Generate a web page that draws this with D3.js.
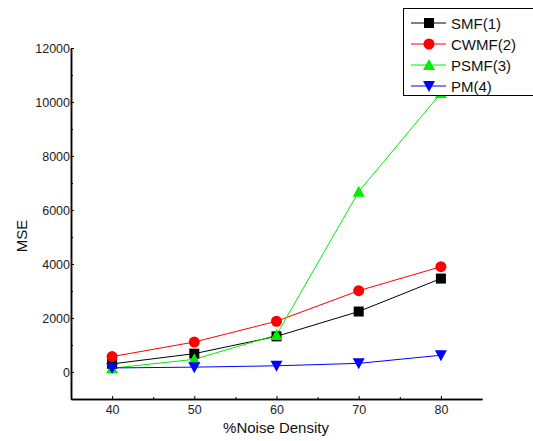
<!DOCTYPE html>
<html><head><meta charset="utf-8">
<script src="https://cdn.jsdelivr.net/npm/d3@7"></script>
<style>body{margin:0;background:#fff}svg{display:block;font-family:"Liberation Sans",Arial,sans-serif}</style>
</head><body><svg id="c" width="533" height="441"></svg>
<script>
const xValues = [40, 50, 60, 70, 80];
const smf  = [300, 680, 1320, 2240, 3460];
const cwmf = [570, 1110, 1880, 3010, 3900];
const psmf = [140, 470, 1370, 6680, 10330];
const pm   = [150, 180, 230, 320, 620];
const seriesNames = ["SMF(1)", "CWMF(2)", "PSMF(3)", "PM(4)"];
const seriesColors = ["#000000", "#ff0000", "#00ee00", "#0000ff"];
const seriesShapes = ["square", "circle", "triangle", "triangleDown"];
const yTicks = [0, 2000, 4000, 6000, 8000, 10000, 12000];
const yMinor = [-1000, 1000, 3000, 5000, 7000, 9000, 11000];
const xMinor = [45, 55, 65, 75];

const allSeries = [smf, cwmf, psmf, pm];
const svg = d3.select("#c");
const x = d3.scaleLinear().domain([35, 85]).range([71, 482]);
const y = d3.scaleLinear().domain([-1000, 12000]).range([399, 48]);

// axes
svg.append("g").attr("transform", "translate(0,399)")
  .call(d3.axisBottom(x).tickValues(xValues).tickSizeInner(-3).tickSizeOuter(0).tickPadding(6));
svg.append("g").attr("transform", "translate(0,399)")
  .call(d3.axisBottom(x).tickValues(xMinor).tickSizeInner(-2).tickSizeOuter(0).tickFormat(""));
svg.append("g").attr("transform", "translate(71,0)")
  .call(d3.axisLeft(y).tickValues(yTicks).tickSizeInner(-3).tickSizeOuter(0).tickPadding(1).tickFormat(d3.format("d")));
svg.append("g").attr("transform", "translate(71,0)")
  .call(d3.axisLeft(y).tickValues(yMinor).tickSizeInner(-2).tickSizeOuter(0).tickFormat(""));
svg.selectAll(".domain").attr("stroke", "#000").attr("stroke-width", 1.5);
svg.selectAll(".tick line").attr("stroke", "#000");
svg.selectAll(".tick text").attr("font-size", 12.5).attr("fill", "#222")
  .attr("font-family", '"Liberation Sans",Arial,sans-serif');

// axis titles
svg.append("text").attr("x", 276).attr("y", 433).attr("text-anchor", "middle")
  .attr("font-size", 15).attr("fill", "#111").text("%Noise Density");
svg.append("text").attr("transform", "translate(27,236) rotate(-90)").attr("text-anchor", "middle")
  .attr("font-size", 15).attr("fill", "#111").text("MSE");

function drawMarker(g, shape, cx, cy, color) {
  if (shape === "square") {
    g.append("rect").attr("x", cx - 5).attr("y", cy - 5).attr("width", 10).attr("height", 10).attr("fill", color);
  } else if (shape === "circle") {
    g.append("circle").attr("cx", cx).attr("cy", cy).attr("r", 5.5).attr("fill", color);
  } else if (shape === "triangle") {
    g.append("path").attr("d", `M${cx},${cy-6}L${cx+6},${cy+5}L${cx-6},${cy+5}Z`).attr("fill", color);
  } else {
    g.append("path").attr("d", `M${cx},${cy+6}L${cx+6},${cy-5}L${cx-6},${cy-5}Z`).attr("fill", color);
  }
}

const line = d3.line().x((d, i) => x(xValues[i])).y(d => y(d));
const plot = svg.append("g");
allSeries.forEach((s, k) => {
  plot.append("path").datum(s).attr("d", line).attr("fill", "none")
    .attr("stroke", seriesColors[k]).attr("stroke-width", 1);
});
allSeries.forEach((s, k) => {
  s.forEach((v, i) => drawMarker(plot, seriesShapes[k], x(xValues[i]), y(v), seriesColors[k]));
});

// legend
const lg = svg.append("g");
lg.append("rect").attr("x", 403.5).attr("y", 8.5).attr("width", 140).attr("height", 87)
  .attr("fill", "#fff").attr("stroke", "#000").attr("stroke-width", 1);
const rowY = [23, 44, 65, 86];
seriesNames.forEach((n, k) => {
  lg.append("line").attr("x1", 411).attr("x2", 446).attr("y1", rowY[k]).attr("y2", rowY[k])
    .attr("stroke", seriesColors[k]).attr("stroke-width", 1);
  drawMarker(lg, seriesShapes[k], 429, rowY[k], seriesColors[k]);
  lg.append("text").attr("x", 451).attr("y", rowY[k] + 5.5).attr("font-size", 15)
    .attr("fill", "#111").text(n);
});
</script></body></html>
